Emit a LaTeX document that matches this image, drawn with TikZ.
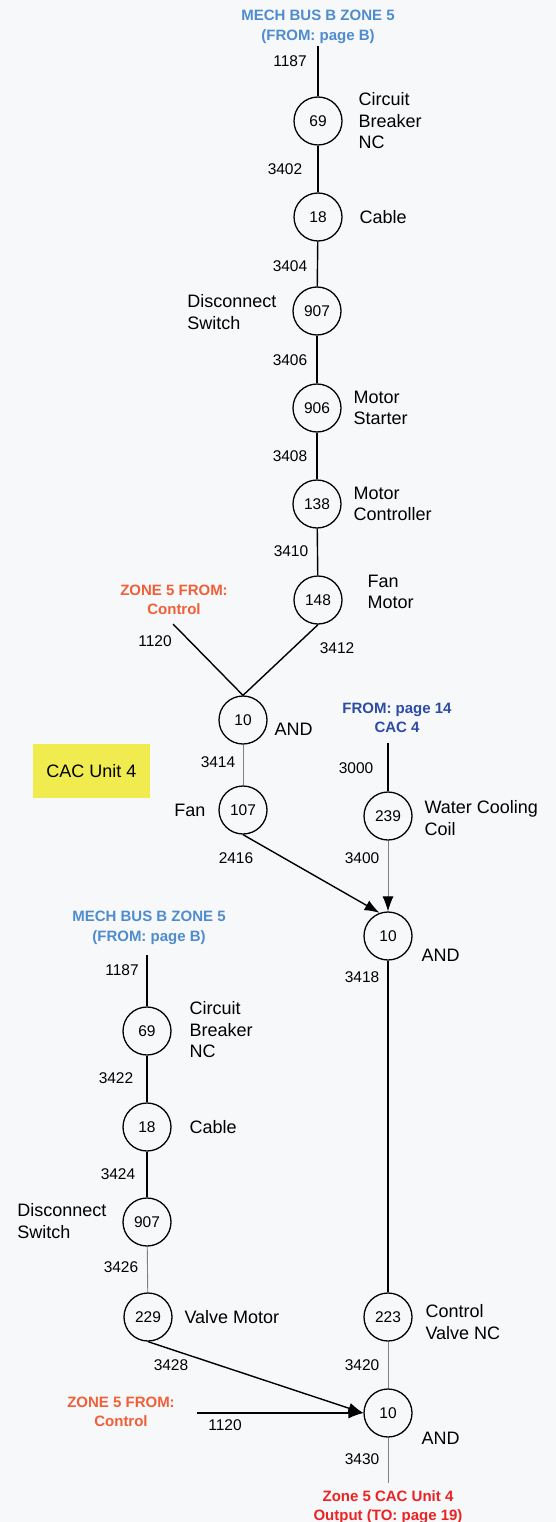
\documentclass[tikz,border=0pt]{standalone}
\usepackage{fontspec}
\setmainfont{Liberation Sans}
\usetikzlibrary{arrows.meta}

\definecolor{busblue}{RGB}{80,140,205}
\definecolor{pageblue}{RGB}{45,75,165}
\definecolor{ctrlred}{RGB}{240,95,55}
\definecolor{outred}{RGB}{235,35,35}
\definecolor{cacyellow}{RGB}{240,236,80}
\definecolor{paper}{RGB}{246,248,250}

\newcommand\lblfont{\fontsize{18}{21.5}\selectfont}
\newcommand\numfont{\fontsize{15.5}{18}\selectfont}
\newcommand\hdrfont{\bfseries\fontsize{15}{19.5}\selectfont}

\begin{document}
\begin{tikzpicture}[
  x=1pt, y=-1pt, >={Latex[length=15pt, width=11pt, black]},
  gate/.style  = {draw, circle, line width=1.3pt, minimum size=48pt, inner sep=0pt, font=\numfont},
  wire/.style  = {line width=1.4pt},
  faint/.style = {line width=0.9pt, draw=black!50},
  lbl/.style   = {font=\lblfont, align=left},
  num/.style   = {font=\numfont},
  hdr/.style   = {font=\hdrfont, align=center},
]

\fill[paper] (0,0) rectangle (556,1522);
\useasboundingbox (0,0) rectangle (556,1522);

%── Nodes ─────────────────────────────────────────────────────────────────────
% Fan chain (x = 318)
\node[gate]         (cb)    at (318, 121)  {69};
\node[gate]         (cab)   at (318, 217)  {18};
\node[gate]         (dsw)   at (317, 311)  {907};
\node[gate]         (mst)   at (317, 408)  {906};
\node[gate]         (mctl)  at (317, 504)  {138};
\node[gate]         (fmot)  at (318, 600)  {148};
\node[gate]         (anda)  at (243, 720)  {10};
\node[gate]         (fan)   at (243, 810)  {107};

% Cooling chain (x = 388)
\node[gate]         (wcc)   at (388, 816)  {239};
\node[gate]         (andb)  at (388, 936)  {10};
\node[gate]         (cvlv)  at (388, 1317) {223};
\node[gate]         (andc)  at (388, 1413) {10};

% Valve chain (x = 147)
\node[gate]         (vcb)   at (147, 1031) {69};
\node[gate]         (vcab)  at (147, 1127) {18};
\node[gate]         (vdsw)  at (147, 1222) {907};
\node[gate]         (vmot)  at (148, 1317) {229};

%── Free ends ─────────────────────────────────────────────────────────────────
\coordinate (busin)  at (318, 46);
\coordinate (ctrla)  at (173, 624);
\coordinate (cacin)  at (388, 743);
\coordinate (vbusin) at (147, 955);
\coordinate (ctrlb)  at (197, 1413);
\coordinate (cacout) at (388, 1483);

%── Fan chain wires ───────────────────────────────────────────────────────────
\draw[wire]  (busin) -- (cb);
\draw[wire]  (cb)    -- (cab);
\draw[wire]  (cab)   -- (dsw);
\draw[wire]  (dsw)   -- (mst);
\draw[wire]  (mst)   -- (mctl);
\draw[wire]  (mctl)  -- (fmot);
\draw[wire]  (fmot.south) -- (anda.north);
\draw[wire]  (ctrla) -- (anda.north);
\draw[faint] (anda)  -- (fan);
\draw[wire,->] (fan.south) -- (andb.110);

%── Cooling chain wires ───────────────────────────────────────────────────────
\draw[wire]    (cacin) -- (wcc);
\draw[faint,->] (wcc)  -- (andb);
\draw[wire]    (andb)  -- (cvlv);
\draw[faint]   (cvlv)  -- (andc);
\draw[faint]   (andc)  -- (cacout);

%── Valve chain wires ─────────────────────────────────────────────────────────
\draw[wire]  (vbusin) -- (vcb);
\draw[wire]  (vcb)    -- (vcab);
\draw[wire]  (vcab)   -- (vdsw);
\draw[faint] (vdsw)   -- (vmot);
\draw[wire,->] (vmot.south) -- (andc.west);
\draw[wire,->] (ctrlb) -- (andc.west);

%── Wire numbers ──────────────────────────────────────────────────────────────
\node[num] (n1187a) at (290, 61)   {1187};
\node[num] (n3402)  at (285, 169)  {3402};
\node[num] (n3404)  at (290, 266)  {3404};
\node[num] (n3406)  at (290, 360)  {3406};
\node[num] (n3408)  at (290, 456)  {3408};
\node[num] (n3410)  at (291, 551)  {3410};
\node[num] (n1120a) at (155, 641)  {1120};
\node[num] (n3412)  at (337, 648)  {3412};
\node[num] (n3414)  at (218, 762)  {3414};
\node[num] (n3000)  at (356, 768)  {3000};
\node[num] (n2416)  at (236, 858)  {2416};
\node[num] (n3400)  at (362, 858)  {3400};
\node[num] (n3418)  at (362, 977)  {3418};
\node[num] (n1187b) at (122, 970)  {1187};
\node[num] (n3422)  at (116, 1078) {3422};
\node[num] (n3424)  at (118, 1174) {3424};
\node[num] (n3426)  at (121, 1267) {3426};
\node[num] (n3428)  at (171, 1365) {3428};
\node[num] (n3420)  at (362, 1365) {3420};
\node[num] (n1120b) at (225, 1425) {1120};
\node[num] (n3430)  at (362, 1459) {3430};

%── Component names ───────────────────────────────────────────────────────────
\node[lbl, anchor=west] (tcb)   at (355, 121)  {Circuit\\Breaker\\NC};
\node[lbl, anchor=west] (tcab)  at (356, 217)  {Cable};
\node[lbl, anchor=east] (tdsw)  at (280, 312)  {Disconnect\\Switch};
\node[lbl, anchor=west] (tmst)  at (350, 408)  {Motor\\Starter};
\node[lbl, anchor=west] (tmctl) at (350, 504)  {Motor\\Controller};
\node[lbl, anchor=west] (tfmot) at (364, 592)  {Fan\\Motor};
\node[lbl, anchor=west] (tanda) at (271, 729)  {AND};
\node[lbl, anchor=east] (tfan)  at (209, 810)  {Fan};
\node[lbl, anchor=west] (twcc)  at (421, 818)  {Water Cooling\\Coil};
\node[lbl, anchor=west] (tandb) at (418, 955)  {AND};
\node[lbl, anchor=west] (tvcb)  at (186, 1030) {Circuit\\Breaker\\NC};
\node[lbl, anchor=west] (tvcab) at (186, 1127) {Cable};
\node[lbl, anchor=east] (tvdsw) at (110, 1221) {Disconnect\\Switch};
\node[lbl, anchor=west] (tvmot) at (181, 1317) {Valve Motor};
\node[lbl, anchor=west] (tcvlv) at (422, 1322) {Control\\Valve NC};
\node[lbl, anchor=west] (tandc) at (418, 1438) {AND};

%── Sources and destination ───────────────────────────────────────────────────
\node[hdr, text=busblue]  (srca) at (318, 27)   {MECH BUS B ZONE 5\\(FROM: page B)};
\node[hdr, text=ctrlred]  (srcb) at (174, 600)  {ZONE 5 FROM:\\Control};
\node[hdr, text=pageblue] (srcc) at (397, 718)  {FROM: page 14\\CAC 4};
\node[hdr, text=busblue]  (srcd) at (149, 928)  {MECH BUS B ZONE 5\\(FROM: page B)};
\node[hdr, text=ctrlred]  (srce) at (121, 1412) {ZONE 5 FROM:\\Control};
\node[hdr, text=outred]   (dest) at (388, 1507) {Zone 5 CAC Unit 4\\Output (TO: page 19)};

%── Unit tag ──────────────────────────────────────────────────────────────────
\node[fill=cacyellow, font=\lblfont, minimum width=117pt, minimum height=54pt]
     (unit) at (91.5, 771) {CAC Unit 4};

\end{tikzpicture}
\end{document}
